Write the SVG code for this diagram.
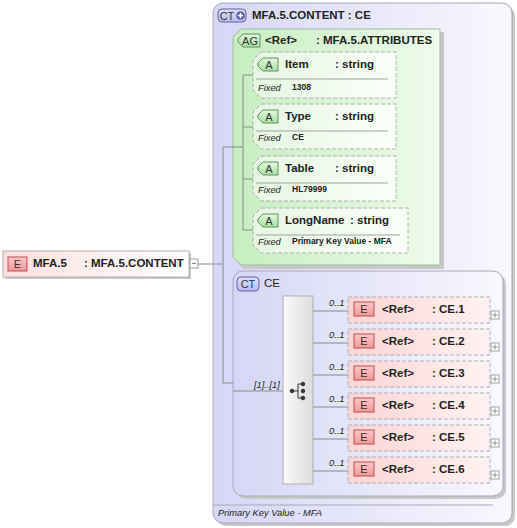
<svg xmlns="http://www.w3.org/2000/svg" width="517" height="528" viewBox="0 0 517 528">
<defs>
<linearGradient id="gCT" x1="0" y1="0" x2="1" y2="0"><stop offset="0" stop-color="#d6d6f6"/><stop offset="1" stop-color="#f8f8fe"/></linearGradient>
<linearGradient id="gAG" x1="0" y1="0" x2="1" y2="0"><stop offset="0" stop-color="#c6eec0"/><stop offset="1" stop-color="#effbec"/></linearGradient>
<linearGradient id="gA" x1="0" y1="0" x2="1" y2="0"><stop offset="0" stop-color="#e6f6e2"/><stop offset="1" stop-color="#fbfffa"/></linearGradient>
<linearGradient id="gE" x1="0" y1="0" x2="1" y2="0"><stop offset="0" stop-color="#fbd4d4"/><stop offset="1" stop-color="#fff2f2"/></linearGradient>
<linearGradient id="gEi" x1="0" y1="0" x2="0" y2="1"><stop offset="0" stop-color="#fcc8c8"/><stop offset="1" stop-color="#f09898"/></linearGradient>
<linearGradient id="gAi" x1="0" y1="0" x2="0" y2="1"><stop offset="0" stop-color="#e4f8e0"/><stop offset="1" stop-color="#a8e0a0"/></linearGradient>
<linearGradient id="gCi" x1="0" y1="0" x2="0" y2="1"><stop offset="0" stop-color="#e0e0fa"/><stop offset="1" stop-color="#b8b8ee"/></linearGradient>
<linearGradient id="gSeq" x1="0" y1="0" x2="1" y2="0"><stop offset="0" stop-color="#fafafa"/><stop offset="1" stop-color="#dcdcdc"/></linearGradient>
<linearGradient id="gMain" x1="0" y1="0" x2="1" y2="0"><stop offset="0" stop-color="#fde0e0"/><stop offset="1" stop-color="#ffffff"/></linearGradient>
</defs>
<style>
text{font-family:"Liberation Sans",Arial,sans-serif;fill:#222}
.b{font-weight:bold;font-size:11.5px}
.n{font-size:11.5px}
.ic{font-size:11px;text-anchor:middle;fill:#333}
.it{font-style:italic;font-size:9.3px}
.fx{font-weight:bold;font-size:8.5px}
.ln{stroke:#8a8a8a;stroke-width:1;fill:none}
.sh{fill:#c8c8c8}
.ebox{fill:url(#gE);stroke:#b0b0b0;stroke-dasharray:4 2}
.eico{fill:url(#gEi);stroke:#b85050}
.abox{fill:url(#gA);stroke:#b0b0b0;stroke-dasharray:4 2}
.aico{fill:url(#gAi);stroke:#609060}
.btn{fill:#fff;stroke:#a0a0a0}
</style>

<!-- outer complex type -->
<g id="ct-content">
<rect x="216" y="6" width="299" height="520" rx="10" class="sh"/>
<rect x="213" y="3" width="299" height="520" rx="10" fill="url(#gCT)" stroke="#a8a8b8"/>
<rect x="218" y="9" width="28" height="13" rx="4" fill="url(#gCi)" stroke="#6060a0"/>
<text x="227" y="19.5" class="ic" font-size="10">CT</text>
<circle cx="240.5" cy="15.5" r="4.3" fill="#5a5aa8"/>
<path d="M237.8 15.5h5.4M240.5 12.8v5.4" stroke="#fff" stroke-width="1.6"/>
<text x="252" y="19" class="b">MFA.5.CONTENT : CE</text>
<line x1="213" y1="505" x2="493" y2="505" stroke="#a8a8b8"/>
<text x="218" y="516" class="it">Primary Key Value - MFA</text>
</g>

<!-- attribute group -->
<g id="ag">
<path d="M244 32H444V269H244L236 261V40Z" class="sh"/>
<path d="M241 29H440V265H241L233 257V37Z" fill="url(#gAG)" stroke="#a0b8a0"/>
<path d="M243 34H260V47H243L238 42V39Z" class="aico"/>
<text x="250" y="45" class="ic" font-size="10">AG</text>
<text x="265" y="44" class="b">&lt;Ref&gt;</text>
<text x="316" y="44" class="b">: MFA.5.ATTRIBUTES</text>
</g>

<g id="attr-item">
<path d="M261 52H396V98H261L253 90V60Z" class="abox"/>
<path d="M263 58H278V71H263L258 66V63Z" class="aico"/>
<text x="269" y="69" class="ic">A</text>
<text x="285" y="68" class="b">Item</text>
<text x="335" y="68" class="b">: string</text>
<line x1="256" y1="79" x2="388" y2="79" stroke="#a0a0a0"/>
<text x="258" y="91" class="it">Fixed</text>
<text x="292" y="90" class="fx">1308</text>
</g>

<g id="attr-type">
<path d="M261 104H396V149H261L253 141V112Z" class="abox"/>
<path d="M263 110H278V123H263L258 118V115Z" class="aico"/>
<text x="269" y="121" class="ic">A</text>
<text x="285" y="120" class="b">Type</text>
<text x="335" y="120" class="b">: string</text>
<line x1="256" y1="131" x2="388" y2="131" stroke="#a0a0a0"/>
<text x="258" y="141" class="it">Fixed</text>
<text x="292" y="140" class="fx">CE</text>
</g>

<g id="attr-table">
<path d="M261 156H396V201H261L253 193V164Z" class="abox"/>
<path d="M263 162H278V175H263L258 170V167Z" class="aico"/>
<text x="269" y="173" class="ic">A</text>
<text x="285" y="172" class="b">Table</text>
<text x="335" y="172" class="b">: string</text>
<line x1="256" y1="183" x2="388" y2="183" stroke="#a0a0a0"/>
<text x="258" y="193" class="it">Fixed</text>
<text x="292" y="192" class="fx">HL79999</text>
</g>

<g id="attr-longname">
<path d="M261 208H408V253H261L253 245V216Z" class="abox"/>
<path d="M263 214H278V227H263L258 222V219Z" class="aico"/>
<text x="269" y="225" class="ic">A</text>
<text x="285" y="224" class="b">LongName</text>
<text x="350" y="224" class="b">: string</text>
<line x1="256" y1="235" x2="400" y2="235" stroke="#a0a0a0"/>
<text x="258" y="245" class="it">Fixed</text>
<text x="292" y="244" class="fx">Primary Key Value - MFA</text>
</g>

<!-- CE complex type -->
<g id="ct-ce">
<rect x="236" y="274" width="270" height="225" rx="10" class="sh"/>
<rect x="233" y="271" width="270" height="225" rx="10" fill="url(#gCT)" stroke="#a8a8b8"/>
<rect x="237" y="277" width="22" height="14" rx="4" fill="url(#gCi)" stroke="#6060a0"/>
<text x="248" y="288" class="ic" font-size="10">CT</text>
<text x="264" y="287" class="n">CE</text>
</g>

<g id="sequence">
<rect x="283" y="296" width="30" height="188" fill="url(#gSeq)" stroke="#b0b0b0"/>
<g fill="#333" stroke="#333">
<circle cx="292" cy="391" r="1.8"/>
<circle cx="303" cy="384" r="1.8"/>
<circle cx="303" cy="391" r="1.8"/>
<circle cx="303" cy="398" r="1.8"/>
<path d="M292 391H298M298 384V398M298 384H303M298 398H303" fill="none" stroke-width="1"/>
</g>
</g>

<!-- main element -->
<g id="el-mfa5">
<rect x="5" y="253" width="186" height="26" class="sh"/>
<rect x="3" y="251" width="186" height="26" fill="url(#gMain)" stroke="#b0b0b0"/>
<rect x="8" y="257" width="19" height="14" class="eico"/>
<text x="17.5" y="268" class="ic">E</text>
<text x="33" y="267" class="b">MFA.5</text>
<text x="84" y="267" class="b">: MFA.5.CONTENT</text>
<rect x="190" y="259" width="8" height="9" class="btn"/>
<line x1="192" y1="263.5" x2="196" y2="263.5" stroke="#808080"/>
</g>

<!-- child elements -->
<g id="el-ce1">
<rect x="348" y="297" width="142" height="26" class="ebox"/>
<rect x="354" y="302" width="20" height="14" class="eico"/>
<text x="364" y="313" class="ic">E</text>
<text x="382" y="313" class="b">&lt;Ref&gt;</text>
<text x="432" y="313" class="b">: CE.1</text>
<rect x="491" y="311" width="8" height="8" class="btn"/>
<path d="M492.5 315h5M495 312.5v5" stroke="#909090"/>
</g>
<g id="el-ce2">
<rect x="348" y="329" width="142" height="26" class="ebox"/>
<rect x="354" y="334" width="20" height="14" class="eico"/>
<text x="364" y="345" class="ic">E</text>
<text x="382" y="345" class="b">&lt;Ref&gt;</text>
<text x="432" y="345" class="b">: CE.2</text>
<rect x="491" y="343" width="8" height="8" class="btn"/>
<path d="M492.5 347h5M495 344.5v5" stroke="#909090"/>
</g>
<g id="el-ce3">
<rect x="348" y="361" width="142" height="26" class="ebox"/>
<rect x="354" y="366" width="20" height="14" class="eico"/>
<text x="364" y="377" class="ic">E</text>
<text x="382" y="377" class="b">&lt;Ref&gt;</text>
<text x="432" y="377" class="b">: CE.3</text>
<rect x="491" y="375" width="8" height="8" class="btn"/>
<path d="M492.5 379h5M495 376.5v5" stroke="#909090"/>
</g>
<g id="el-ce4">
<rect x="348" y="393" width="142" height="26" class="ebox"/>
<rect x="354" y="398" width="20" height="14" class="eico"/>
<text x="364" y="409" class="ic">E</text>
<text x="382" y="409" class="b">&lt;Ref&gt;</text>
<text x="432" y="409" class="b">: CE.4</text>
<rect x="491" y="407" width="8" height="8" class="btn"/>
<path d="M492.5 411h5M495 408.5v5" stroke="#909090"/>
</g>
<g id="el-ce5">
<rect x="348" y="425" width="142" height="26" class="ebox"/>
<rect x="354" y="430" width="20" height="14" class="eico"/>
<text x="364" y="441" class="ic">E</text>
<text x="382" y="441" class="b">&lt;Ref&gt;</text>
<text x="432" y="441" class="b">: CE.5</text>
<rect x="491" y="439" width="8" height="8" class="btn"/>
<path d="M492.5 443h5M495 440.5v5" stroke="#909090"/>
</g>
<g id="el-ce6">
<rect x="348" y="457" width="142" height="26" class="ebox"/>
<rect x="354" y="462" width="20" height="14" class="eico"/>
<text x="364" y="473" class="ic">E</text>
<text x="382" y="473" class="b">&lt;Ref&gt;</text>
<text x="432" y="473" class="b">: CE.6</text>
<rect x="491" y="471" width="8" height="8" class="btn"/>
<path d="M492.5 475h5M495 472.5v5" stroke="#909090"/>
</g>

<!-- connectors -->
<g id="connectors">
<path class="ln" d="M198 264H223M223 147V383M223 147H243M223 383H233"/>
<path class="ln" d="M243 75V230M243 75H253M243 127H253M243 179H253M243 230H253"/>
<path class="ln" d="M233 391H283"/>
<path class="ln" d="M313 311H348M313 343H348M313 375H348M313 407H348M313 439H348M313 471H348"/>
<text x="254" y="388" class="it">[1]..[1]</text>
<text x="329" y="306" class="it">0..1</text>
<text x="329" y="338" class="it">0..1</text>
<text x="329" y="370" class="it">0..1</text>
<text x="329" y="402" class="it">0..1</text>
<text x="329" y="434" class="it">0..1</text>
<text x="329" y="466" class="it">0..1</text>
</g>
</svg>
